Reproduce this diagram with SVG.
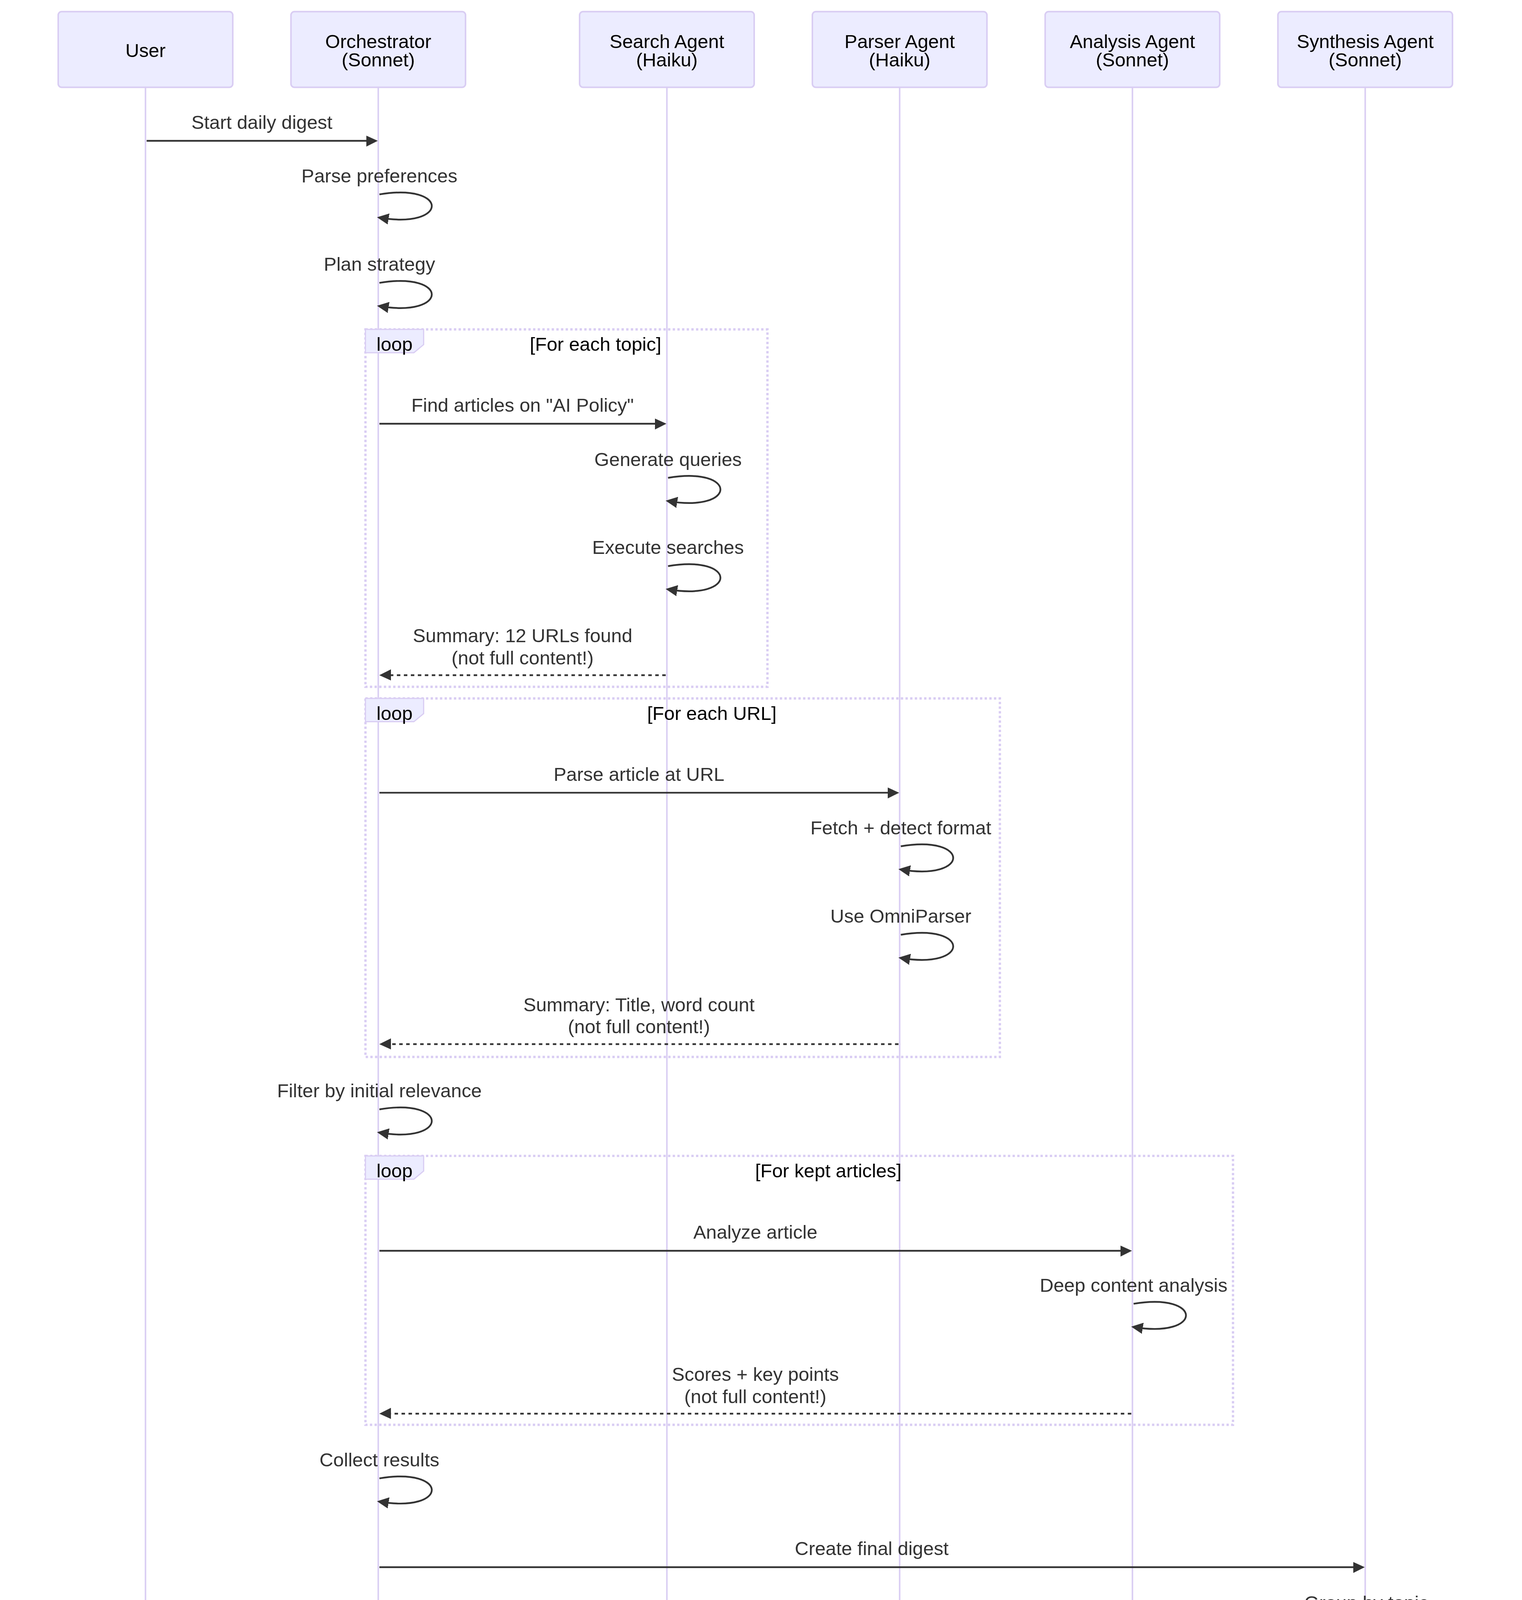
<svg xmlns="http://www.w3.org/2000/svg" width="3897" height="5775" viewBox="0 0 3897 5775">
<style>
.actor{fill:#ECECFF;stroke:#d9cdf3;stroke-width:1.3}
.life{stroke:#d9cdf3;stroke-width:1.3}
.atext{font-family:"Liberation Sans",Arial,sans-serif;font-size:16.4px;fill:#000;text-anchor:middle;dominant-baseline:central}
.mtext{font-family:"Liberation Sans",Arial,sans-serif;font-size:16.4px;fill:#333;text-anchor:middle;dominant-baseline:central}
.ltext{font-family:"Liberation Sans",Arial,sans-serif;font-size:16.4px;fill:#000;text-anchor:middle;dominant-baseline:central}
.msg{stroke:#333;stroke-width:1.5;fill:none;marker-end:url(#arrowhead)}
.dash{stroke-dasharray:3,3}
.loopbox{fill:none;stroke:#d9cdf3;stroke-width:2;stroke-dasharray:2,2}
.labelbox{fill:#ECECFF;stroke:#d9cdf3;stroke-width:1}
.note{fill:#fff5ad;stroke:#aaaa33;stroke-width:1}
</style>
<defs>
<marker id="arrowhead" refX="7.9" refY="5" markerUnits="userSpaceOnUse" markerWidth="12" markerHeight="12" orient="auto">
<path d="M -1 0 L 10 5 L 0 10 z" fill="#333"/>
</marker>
</defs>
<rect x="0" y="0" width="3897" height="5775" fill="#ffffff"/>
<g transform="translate(149,29.8) scale(2.98)">
<g id="lifelines">
<line class="life" x1="75" y1="65" x2="75" y2="1840"/>
<line class="life" x1="275" y1="65" x2="275" y2="1840"/>
<line class="life" x1="523" y1="65" x2="523" y2="1840"/>
<line class="life" x1="723" y1="65" x2="723" y2="1840"/>
<line class="life" x1="923" y1="65" x2="923" y2="1840"/>
<line class="life" x1="1123" y1="65" x2="1123" y2="1840"/>
</g>
<g id="actor-user">
<rect class="actor" x="0" y="0" width="150" height="65" rx="3"/>
<text class="atext" x="75" y="33.3">User</text>
<rect class="actor" x="0" y="1840" width="150" height="65" rx="3"/>
<text class="atext" x="75" y="1873.3">User</text>
</g>
<g id="actor-orchestrator">
<rect class="actor" x="200" y="0" width="150" height="65" rx="3"/>
<text class="atext" x="275" y="25.5">Orchestrator</text>
<text class="atext" x="275" y="41.5">(Sonnet)</text>
<rect class="actor" x="200" y="1840" width="150" height="65" rx="3"/>
<text class="atext" x="275" y="1865.5">Orchestrator</text>
<text class="atext" x="275" y="1881.5">(Sonnet)</text>
</g>
<g id="actor-search">
<rect class="actor" x="448" y="0" width="150" height="65" rx="3"/>
<text class="atext" x="523" y="25.5">Search Agent</text>
<text class="atext" x="523" y="41.5">(Haiku)</text>
<rect class="actor" x="448" y="1840" width="150" height="65" rx="3"/>
<text class="atext" x="523" y="1865.5">Search Agent</text>
<text class="atext" x="523" y="1881.5">(Haiku)</text>
</g>
<g id="actor-parser">
<rect class="actor" x="648" y="0" width="150" height="65" rx="3"/>
<text class="atext" x="723" y="25.5">Parser Agent</text>
<text class="atext" x="723" y="41.5">(Haiku)</text>
<rect class="actor" x="648" y="1840" width="150" height="65" rx="3"/>
<text class="atext" x="723" y="1865.5">Parser Agent</text>
<text class="atext" x="723" y="1881.5">(Haiku)</text>
</g>
<g id="actor-analysis">
<rect class="actor" x="848" y="0" width="150" height="65" rx="3"/>
<text class="atext" x="923" y="25.5">Analysis Agent</text>
<text class="atext" x="923" y="41.5">(Sonnet)</text>
<rect class="actor" x="848" y="1840" width="150" height="65" rx="3"/>
<text class="atext" x="923" y="1865.5">Analysis Agent</text>
<text class="atext" x="923" y="1881.5">(Sonnet)</text>
</g>
<g id="actor-synthesis">
<rect class="actor" x="1048" y="0" width="150" height="65" rx="3"/>
<text class="atext" x="1123" y="25.5">Synthesis Agent</text>
<text class="atext" x="1123" y="41.5">(Sonnet)</text>
<rect class="actor" x="1048" y="1840" width="150" height="65" rx="3"/>
<text class="atext" x="1123" y="1865.5">Synthesis Agent</text>
<text class="atext" x="1123" y="1881.5">(Sonnet)</text>
</g>
<g id="loop-topics">
<rect class="loopbox" x="264" y="273" width="345.4" height="307"/>
<polygon class="labelbox" points="264,273 314,273 314,286 305.6,293 264,293"/>
<text class="ltext" x="289" y="285.7">loop</text>
<text class="ltext" x="461.7" y="285.7">[For each topic]</text>
</g>
<g id="loop-urls">
<rect class="loopbox" x="264" y="590" width="545.1" height="308"/>
<polygon class="labelbox" points="264,590 314,590 314,603 305.6,610 264,610"/>
<text class="ltext" x="289" y="602.7">loop</text>
<text class="ltext" x="561.6" y="602.7">[For each URL]</text>
</g>
<g id="loop-kept">
<rect class="loopbox" x="264" y="983" width="745.4" height="231"/>
<polygon class="labelbox" points="264,983 314,983 314,996 305.6,1003 264,1003"/>
<text class="ltext" x="289" y="995.7">loop</text>
<text class="ltext" x="661.7" y="995.7">[For kept articles]</text>
</g>
<g id="connectors">
<line class="msg" x1="76" y1="111" x2="272.5" y2="111"/>
<text class="mtext" x="175" y="95">Start daily digest</text>

<path class="msg" d="M276,157 C336,147 336,187 276,177"/>
<text class="mtext" x="276" y="141">Parse preferences</text>

<path class="msg" d="M276,233 C336,223 336,263 276,253"/>
<text class="mtext" x="276" y="217">Plan strategy</text>

<line class="msg" x1="276" y1="354" x2="520.5" y2="354"/>
<text class="mtext" x="399" y="338">Find articles on "AI Policy"</text>

<path class="msg" d="M524,400.5 C584,390.5 584,430.5 524,420.5"/>
<text class="mtext" x="524" y="384.5">Generate queries</text>

<path class="msg" d="M524,476.3 C584,466.3 584,506.3 524,496.3"/>
<text class="mtext" x="524" y="460.3">Execute searches</text>

<line class="msg dash" x1="522" y1="570" x2="278" y2="570"/>
<text class="mtext" x="399" y="536">Summary: 12 URLs found</text>
<text class="mtext" x="399" y="555">(not full content!)</text>

<line class="msg" x1="276" y1="671" x2="720.5" y2="671"/>
<text class="mtext" x="499" y="655">Parse article at URL</text>

<path class="msg" d="M724,717 C784,707 784,747 724,737"/>
<text class="mtext" x="724" y="701">Fetch + detect format</text>

<path class="msg" d="M724,793 C784,783 784,823 724,813"/>
<text class="mtext" x="724" y="777">Use OmniParser</text>

<line class="msg dash" x1="722" y1="887" x2="278" y2="887"/>
<text class="mtext" x="499" y="853">Summary: Title, word count</text>
<text class="mtext" x="499" y="872">(not full content!)</text>

<path class="msg" d="M276,943 C336,933 336,973 276,963"/>
<text class="mtext" x="276" y="927">Filter by initial relevance</text>

<line class="msg" x1="276" y1="1064.5" x2="920.5" y2="1064.5"/>
<text class="mtext" x="599" y="1048.5">Analyze article</text>

<path class="msg" d="M924,1110 C984,1100 984,1140 924,1130"/>
<text class="mtext" x="924" y="1094">Deep content analysis</text>

<line class="msg dash" x1="922" y1="1204.4" x2="278" y2="1204.4"/>
<text class="mtext" x="599" y="1170.5">Scores + key points</text>
<text class="mtext" x="599" y="1189.7">(not full content!)</text>

<path class="msg" d="M276,1260 C336,1250 336,1290 276,1280"/>
<text class="mtext" x="276" y="1244">Collect results</text>

<line class="msg" x1="276" y1="1336.3" x2="1120.5" y2="1336.3"/>
<text class="mtext" x="699" y="1320.3">Create final digest</text>

<path class="msg" d="M1124,1382.5 C1184,1372.5 1184,1412.5 1124,1402.5"/>
<text class="mtext" x="1124" y="1366.7">Group by topic</text>

<path class="msg" d="M1124,1458.5 C1184,1448.5 1184,1488.5 1124,1478.5"/>
<text class="mtext" x="1124" y="1442.7">Write summaries</text>

<path class="msg" d="M1124,1534.3 C1184,1524.3 1184,1564.3 1124,1554.3"/>
<text class="mtext" x="1124" y="1518.5">Format markdown</text>

<line class="msg dash" x1="1122" y1="1610.8" x2="278" y2="1610.8"/>
<text class="mtext" x="699" y="1594.7">Complete digest</text>

<path class="msg" d="M276,1656.4 C336,1646.4 336,1686.4 276,1676.4"/>
<text class="mtext" x="276" y="1640.6">Add metadata</text>

<line class="msg" x1="274" y1="1732.7" x2="78" y2="1732.7"/>
<text class="mtext" x="175" y="1716.7">Save digest file</text>
</g>
<g id="note">
<rect class="note" x="250" y="1742.8" width="898" height="77.2"/>
<text class="ltext" x="699" y="1763">Main agent context stays</text>
<text class="ltext" x="699" y="1782.2">lean - only sees summaries,</text>
<text class="ltext" x="699" y="1800.6">not full article content!</text>
</g>
</g>
</svg>
